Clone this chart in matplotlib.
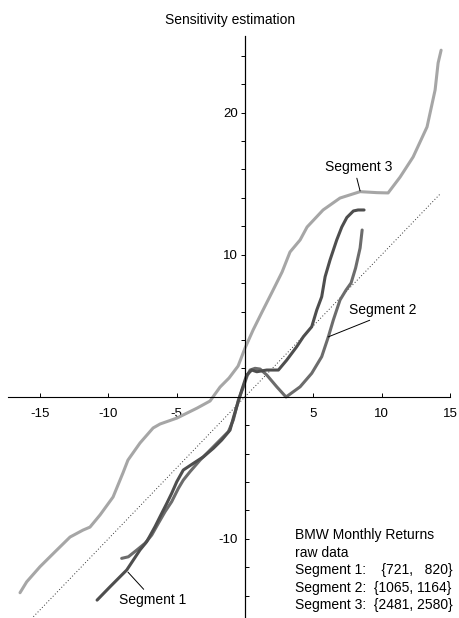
import matplotlib.pyplot as plt
import numpy as np

plt.rcParams['font.family'] = ['Liberation Sans', 'DejaVu Sans']

# curves (x = return, y = estimate)
seg1_x = [-10.83, -9.88, -8.66, -7.69, -7.20, -6.59, -6.10, -5.73, -5.37, -5.00,
          -4.52, -3.78, -3.05, -2.32, -1.71, -1.10, -0.86, -0.61, -0.24, 0.12,
          0.49, 0.86, 1.59, 2.44, 3.05, 3.78, 4.27, 4.88, 5.25, 5.61,
          5.86, 6.22, 6.71, 7.08, 7.45, 7.93, 8.27, 8.71]
seg1_y = [-14.32, -13.38, -12.20, -10.79, -10.21, -9.15, -8.21, -7.51, -6.80, -5.99,
          -5.16, -4.69, -4.23, -3.63, -3.05, -2.35, -1.50, -0.70, 0.47, 1.53,
          1.88, 1.76, 1.88, 1.88, 2.58, 3.52, 4.23, 4.93, 6.11, 7.04,
          8.45, 9.63, 11.04, 11.95, 12.62, 13.08, 13.15, 13.15]

seg2_x = [-9.03, -8.54, -7.93, -7.32, -6.83, -6.35, -5.86, -5.37, -4.88, -4.52,
          -4.03, -3.29, -2.80, -2.07, -1.22, -0.86, -0.49, -0.12, 0.15, 0.37,
          0.73, 1.10, 1.59, 2.32, 3.00, 4.03, 4.88, 5.61, 6.10, 6.46,
          6.95, 7.39, 7.76, 8.09, 8.42, 8.57]
seg2_y = [-11.38, -11.27, -10.80, -10.32, -9.74, -8.92, -8.10, -7.39, -6.45, -5.87,
          -5.28, -4.46, -3.99, -3.28, -2.46, -1.64, -0.23, 0.70, 1.46, 1.88,
          2.00, 1.95, 1.53, 0.70, -0.02, 0.70, 1.65, 2.82, 4.23, 5.40,
          6.81, 7.51, 8.01, 9.06, 10.47, 11.74]

seg3_x = [-16.47, -15.98, -15.01, -13.91, -12.81, -11.86, -11.35, -10.61, -9.66, -8.93,
          -8.57, -7.69, -6.73, -6.22, -4.98, -3.51, -2.56, -1.83, -1.17, -0.51,
          0.00, 0.59, 1.24, 1.98, 2.71, 3.29, 4.03, 4.54, 5.71, 6.95,
          8.42, 9.66, 10.47, 11.35, 12.30, 13.32, 13.91, 14.13, 14.35]
seg3_y = [-13.80, -13.03, -11.97, -10.92, -9.88, -9.39, -9.18, -8.32, -7.06, -5.35,
          -4.46, -3.26, -2.20, -1.92, -1.50, -0.80, -0.30, 0.68, 1.32, 2.16,
          3.43, 4.70, 5.96, 7.37, 8.78, 10.19, 11.04, 11.95, 13.15, 13.99,
          14.44, 14.37, 14.35, 15.47, 16.88, 19.00, 21.60, 23.50, 24.40]

# reference line y = x
diag_x = [-16.5, 14.3]
diag_y = [-16.5, 14.3]

x_ticks = [-15, -10, -5, 5, 10, 15]
y_ticks_pos = [2, 4, 6, 8, 10, 12, 14, 16, 18, 20, 22, 24]
y_ticks_neg = [-14, -12, -10, -8, -6, -4, -2]

info_lines = ['BMW Monthly Returns',
              'raw data',
              'Segment 1:    {721,   820}',
              'Segment 2:  {1065, 1164}',
              'Segment 3:  {2481, 2580}']

fig = plt.figure(figsize=(4.59, 6.18), dpi=100)
ax = fig.add_axes([8 / 459, 0, 442 / 459, 582 / 618])
ax.set_xlim(-17.35, 15.0)
ax.set_ylim(-15.58, 25.4)

ax.plot(diag_x, diag_y, color='#333333', lw=0.7, ls=(0, (1, 2.2)))
ax.plot(seg3_x, seg3_y, color='#a6a6a6', lw=2.2, solid_capstyle='round', solid_joinstyle='round')
ax.plot(seg2_x, seg2_y, color='#6c6c6c', lw=2.2, solid_capstyle='round', solid_joinstyle='round')
ax.plot(seg1_x, seg1_y, color='#4e4e4e', lw=2.2, solid_capstyle='round', solid_joinstyle='round')

# axes through the origin
for s in ['top', 'right']:
    ax.spines[s].set_visible(False)
ax.spines['left'].set_position(('data', 0))
ax.spines['bottom'].set_position(('data', 0))
ax.spines['left'].set_linewidth(0.8)
ax.spines['bottom'].set_linewidth(0.8)

ax.set_xticks(x_ticks)
ax.set_xticklabels([str(t) for t in x_ticks])
ax.tick_params(axis='x', direction='in', length=3, width=0.7, pad=8, labelsize=9.5)

ax.set_yticks(y_ticks_pos)
ax.set_yticklabels(['20' if t == 20 else '10' if t == 10 else '' for t in y_ticks_pos])
ax.tick_params(axis='y', direction='out', length=3, width=0.7, pad=2, labelsize=9.5)

# negative side of the y axis has its ticks pointing right
loc = (0 - ax.get_xlim()[0]) / (ax.get_xlim()[1] - ax.get_xlim()[0])
sec = ax.secondary_yaxis(loc)
sec.set_alignment('left')
sec.set_yticks(y_ticks_neg)
sec.set_yticklabels(['-10' if t == -10 else '' for t in y_ticks_neg])
sec.tick_params(axis='y', direction='in', length=3, width=0.7, pad=5, labelsize=9.5)
sec.spines['left'].set_linewidth(0.8)

# segment labels with leader lines
arrow = dict(arrowstyle='-', color='black', lw=0.7, shrinkA=1, shrinkB=0)
ax.annotate('Segment 3', xy=(8.42, 14.49), xytext=(8.35, 16.17), ha='center', va='center',
            fontsize=10, arrowprops=dict(arrow, relpos=(0.45, 0)))
ax.annotate('Segment 2', xy=(6.08, 4.21), xytext=(10.07, 6.11), ha='center', va='center',
            fontsize=10, arrowprops=dict(arrow, relpos=(0.43, 0)))
ax.annotate('Segment 1', xy=(-8.57, -12.35), xytext=(-6.77, -14.32), ha='center', va='center',
            fontsize=10, arrowprops=dict(arrow, relpos=(0.42, 1)))

# data description block
for i, line in enumerate(info_lines):
    ax.text(3.66, -9.75 - i * 1.23, line, ha='left', va='center', fontsize=10, clip_on=False)

fig.text(230 / 459, 1 - 20 / 618, 'Sensitivity estimation', ha='center', va='center', fontsize=10)

fig.savefig('out.png', dpi=100, facecolor='white')
